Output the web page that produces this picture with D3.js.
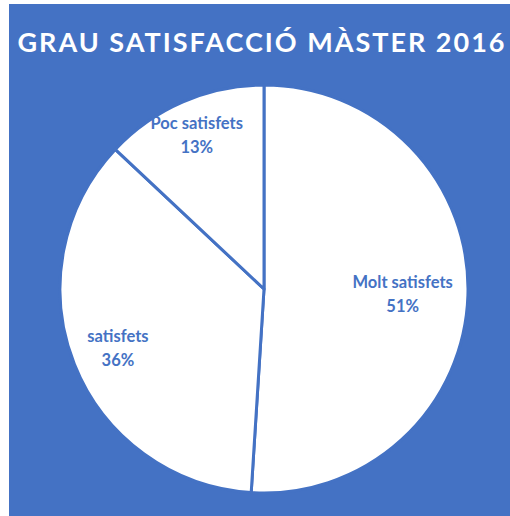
<!DOCTYPE html>
<html>
<head>
<meta charset="utf-8">
<script src="https://cdn.jsdelivr.net/npm/d3@7"></script>
<style>
  body { margin: 0; background: #fff; }
  svg { display: block; }
</style>
</head>
<body>
<svg></svg>
<script>
// data
let categories = ['Molt satisfets', 'satisfets', 'Poc satisfets'];
let values = [51, 36, 13];
let title = 'GRAU SATISFACCIÓ MÀSTER 2016';

let width = 510;
let height = 516;
let blue = '#4472C4';

let cx = 264;
let cy = 289;
let radius = 204;

// label distance from centre, as share of radius (Excel best fit look)
let labelPos = [0.68, 0.77, 0.83];

let svg = d3.select('svg')
    .attr('width', width)
    .attr('height', height)

svg.append('rect')
    .attr('x', 9)
    .attr('y', 4)
    .attr('width', width - 9)
    .attr('height', height - 4)
    .attr('fill', blue)

svg.append('text')
    .attr('x', 262)
    .attr('y', 52)
    .attr('text-anchor', 'middle')
    .attr('fill', '#fff')
    .style('font-family', 'Lato, "Open Sans", sans-serif')
    .style('font-weight', 'bold')
    .style('font-size', '27px')
    .style('letter-spacing', '2px')
    .text(title)

let pie = d3.pie()
    .sort(null)
    .value((d) => d)

let arcs = pie(values)

let arc = d3.arc()
    .innerRadius(0)
    .outerRadius(radius)

let g = svg.append('g')
    .attr('transform', `translate(${cx}, ${cy})`)

g.selectAll('path')
    .data(arcs)
    .enter()
    .append('path')
    .attr('d', arc)
    .attr('fill', '#fff')
    .attr('stroke', blue)
    .attr('stroke-width', 3)
    .attr('stroke-linejoin', 'round')

let labels = g.selectAll('g.label')
    .data(arcs)
    .enter()
    .append('g')
    .attr('class', 'label')
    .attr('transform', (d, i) => {
        let r = radius * labelPos[i]
        let [x, y] = d3.arc().innerRadius(r).outerRadius(r).centroid(d)
        return `translate(${x}, ${y})`
    })

labels.append('text')
    .attr('text-anchor', 'middle')
    .attr('y', -5)
    .attr('fill', blue)
    .style('font-family', 'Lato, "Open Sans", sans-serif')
    .style('font-weight', 'bold')
    .style('font-size', '16.5px')
    .text((d, i) => categories[i])

labels.append('text')
    .attr('text-anchor', 'middle')
    .attr('y', 19)
    .attr('fill', blue)
    .style('font-family', 'Lato, "Open Sans", sans-serif')
    .style('font-weight', 'bold')
    .style('font-size', '16.5px')
    .text((d) => d.data + '%')
</script>
</body>
</html>
